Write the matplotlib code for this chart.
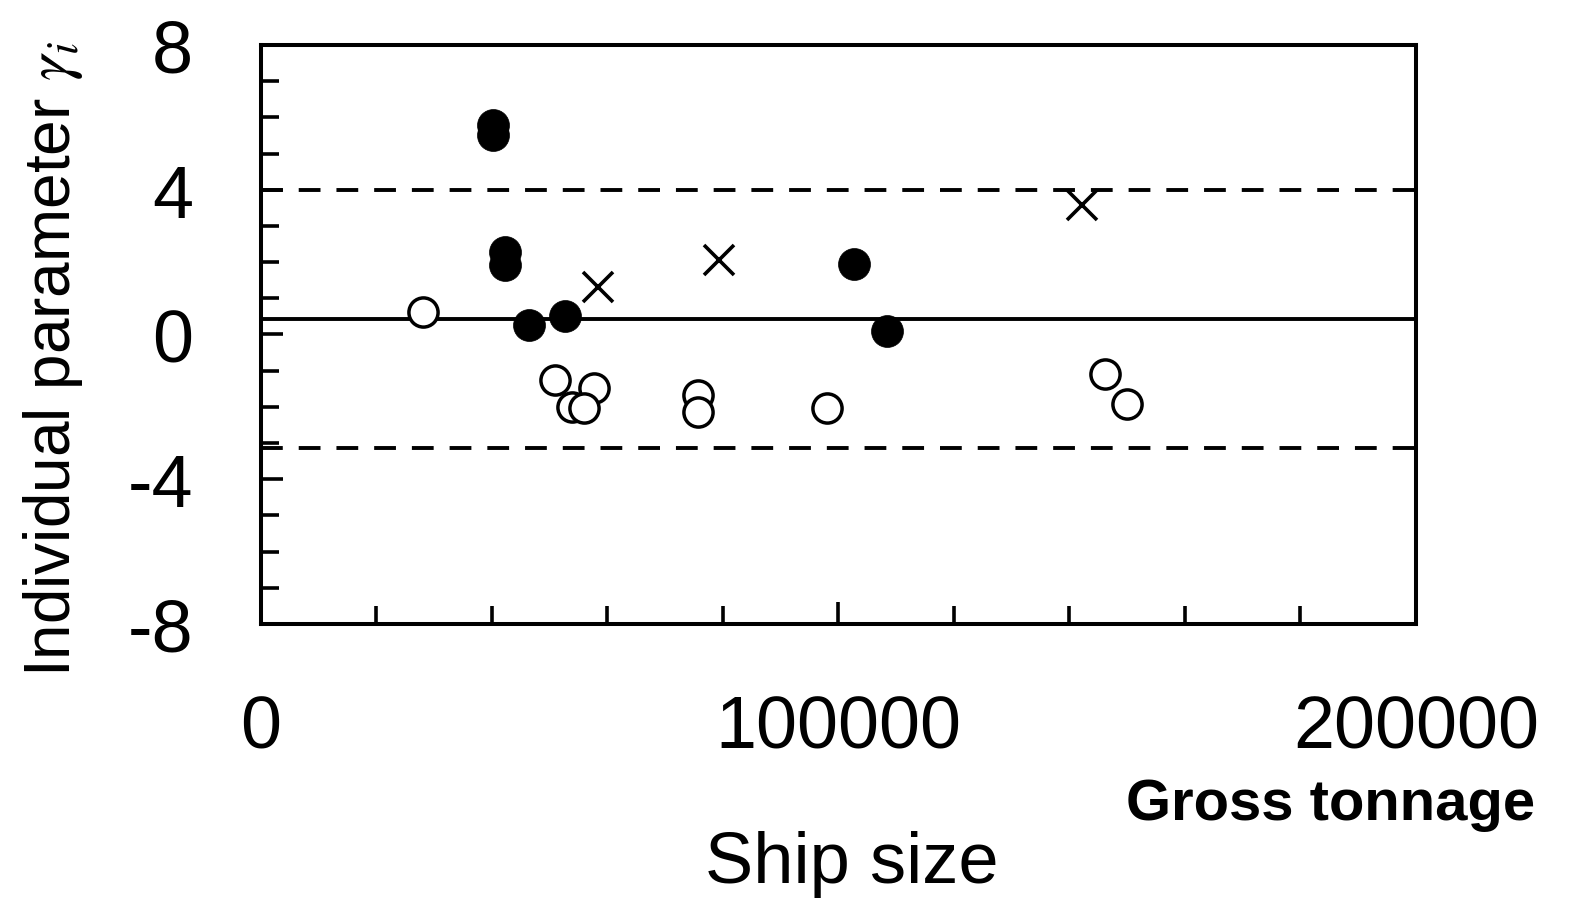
import matplotlib
matplotlib.use('Agg')
import matplotlib.pyplot as plt
from matplotlib.ticker import MultipleLocator

plt.rcParams['font.family'] = ['Liberation Sans', 'DejaVu Sans']
plt.rcParams['mathtext.fontset'] = 'stix'
plt.rcParams['axes.unicode_minus'] = False

# data
filled_x = [40100, 40100, 42300, 42300, 46400, 52600, 102700, 108400]
filled_y = [5.79, 5.51, 2.29, 1.91, 0.26, 0.52, 1.94, 0.10]

cross_x = [58400, 79400, 142200]
cross_y = [1.32, 2.05, 3.57]

open_x = [28000, 51000, 57600, 53900, 55900, 75600, 75600, 98100, 146100, 149900]
open_y = [0.63, -1.26, -1.49, -2.00, -2.04, -1.68, -2.14, -2.03, -1.08, -1.91]

mean_level = 0.44
upper_limit = 4.0
lower_limit = -3.15

x_ticks = [0, 100000, 200000]
x_ticklabels = ['0', '100000', '200000']
y_ticks = [-8, -4, 0, 4, 8]
y_ticklabels = ['-8', '-4', '0', '4', '8']

fig = plt.figure(figsize=(15.71, 9.12), dpi=100)
ax = fig.add_axes([0.1661, 0.3147, 0.7352, 0.6349])

ax.axhline(mean_level, color='black', lw=2.8, zorder=1)
for lvl in (upper_limit, lower_limit):
    ax.axhline(lvl, color='black', lw=2.8, dashes=(5.6, 4.1), zorder=1)

ax.plot(open_x, open_y, 'o', ms=21, mfc='white', mec='black', mew=2.5, zorder=3)
ax.plot(filled_x, filled_y, 'o', ms=23, mfc='black', mec='black', mew=0.5, zorder=4)
ax.plot(cross_x, cross_y, 'x', ms=21, mec='black', mew=2.6, zorder=4)

ax.set_xlim(0, 200000)
ax.set_ylim(-8, 8)
ax.set_xticks(x_ticks, x_ticklabels)
ax.set_yticks(y_ticks, y_ticklabels)
ax.xaxis.set_minor_locator(MultipleLocator(20000))
ax.yaxis.set_minor_locator(MultipleLocator(1))

for s in ax.spines.values():
    s.set_linewidth(2.9)

ax.tick_params(axis='both', which='both', direction='in', width=2.6,
               top=False, right=False, labelsize=53)
ax.tick_params(axis='both', which='major', length=16)
ax.tick_params(axis='both', which='minor', length=13)
ax.tick_params(axis='y', which='major', pad=49)
ax.tick_params(axis='x', which='major', pad=50)

ax.set_ylabel(r'Individual parameter $\mathit{\gamma_i}$', fontsize=46)
ax.yaxis.set_label_coords(-0.152, 0.46)
ax.set_xlabel('Ship size', fontsize=52)
ax.xaxis.set_label_coords(0.512, -0.355)

fig.text(1535 / 1571, 1 - 820 / 912, 'Gross tonnage', fontsize=41.8, fontweight='bold',
         ha='right', va='baseline')

fig.savefig('out.png', dpi=100)
